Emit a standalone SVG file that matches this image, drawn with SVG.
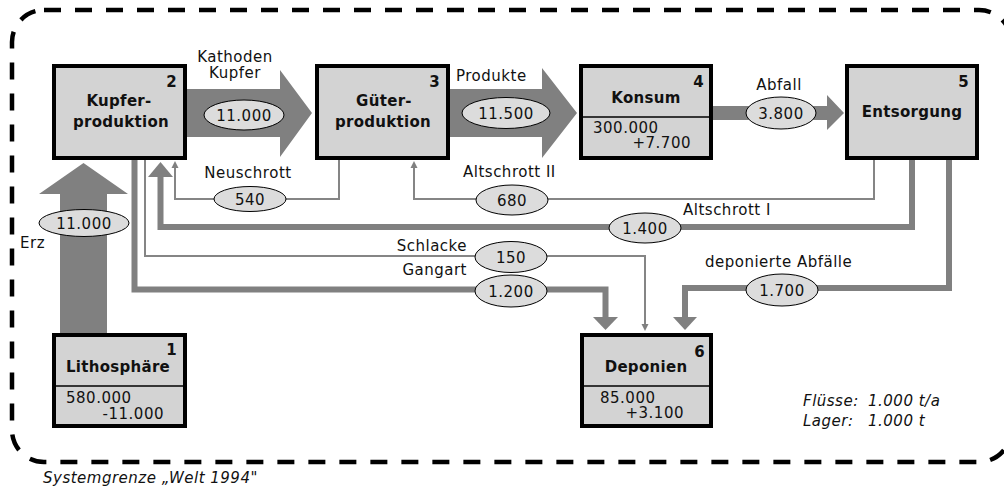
<svg xmlns="http://www.w3.org/2000/svg" width="1004" height="491" viewBox="0 0 1004 491">
<style>
text{font-family:"DejaVu Sans","Verdana",sans-serif;font-size:15px;fill:#111;letter-spacing:0.5px}
.b{font-weight:bold;letter-spacing:0.3px}
.c{text-anchor:middle}
.e{text-anchor:end}
.i{font-style:italic}
.box{fill:#d3d3d3;stroke:#000;stroke-width:4}
.div{stroke:#000;stroke-width:1.5}
.big{fill:#808080}
.thick{fill:none;stroke:#808080;stroke-width:6}
.thin{fill:none;stroke:#858585;stroke-width:2}
.ell{fill:#dcdcdc;stroke:#000;stroke-width:1}
.head{fill:#808080}
</style>
<rect x="12" y="10" width="999" height="452" rx="32" ry="32" fill="none" stroke="#000" stroke-width="4.5" stroke-dasharray="17 14"/>
<text x="43" y="483" class="i">Systemgrenze „Welt 1994"</text>

<g id="connectors">
  <polygon class="big" points="187,89 280,89 280,70 312,113 280,157 280,137 187,137"/>
  <polygon class="big" points="450,89 542,89 542,68 577,113 542,158 542,137 450,137"/>
  <polygon class="big" points="713,106 827,106 827,95 844,113 827,130 827,120 713,120"/>
  <polygon class="big" points="60,333 60,194 39,194 83.5,163 128,194 107,194 107,333"/>
  <polyline class="thin" points="339,160 339,199 175,199 175,167"/>
  <polygon class="head" points="171.5,168 178.5,168 175,161"/>
  <polyline class="thin" points="874,160 874,199 414,199 414,167"/>
  <polygon class="head" points="410.5,168 417.5,168 414,161"/>
  <polyline class="thick" points="912,160 912,227 160.5,227 160.5,176"/>
  <polygon class="head" points="148,177 173,177 160.5,162"/>
  <polyline class="thick" points="949,160 949,288 685,288 685,318"/>
  <polygon class="head" points="673,317 697,317 685,330"/>
  <polyline class="thick" points="134.5,160 134.5,289.5 605.5,289.5 605.5,318"/>
  <polygon class="head" points="593,317 618,317 605.5,330"/>
  <polyline class="thin" points="145,160 145,256 645,256 645,325"/>
  <polygon class="head" points="641.5,324 648.5,324 645,331"/>

  <ellipse class="ell" cx="244" cy="115" rx="40" ry="15"/><text x="244" y="120.5" class="c">11.000</text>
  <ellipse class="ell" cx="506" cy="113" rx="44" ry="15.5"/><text x="506" y="118.5" class="c">11.500</text>
  <ellipse class="ell" cx="781" cy="113" rx="35" ry="16"/><text x="781" y="118.5" class="c">3.800</text>
  <ellipse class="ell" cx="84" cy="223" rx="45" ry="13.5"/><text x="84" y="228.5" class="c">11.000</text>
  <ellipse class="ell" cx="250" cy="199" rx="36" ry="12.5"/><text x="250" y="204.5" class="c">540</text>
  <ellipse class="ell" cx="512" cy="200" rx="36" ry="15"/><text x="512" y="205.5" class="c">680</text>
  <ellipse class="ell" cx="645" cy="228" rx="36" ry="15"/><text x="645" y="233.5" class="c">1.400</text>
  <ellipse class="ell" cx="511" cy="257" rx="36" ry="15.5"/><text x="511" y="262.5" class="c">150</text>
  <ellipse class="ell" cx="511" cy="291" rx="36" ry="16"/><text x="511" y="296.5" class="c">1.200</text>
  <ellipse class="ell" cx="782" cy="290" rx="36" ry="16"/><text x="782" y="295.5" class="c">1.700</text>

  <text x="235" y="62" class="c">Kathoden</text>
  <text x="235" y="78" class="c">Kupfer</text>
  <text x="456" y="81">Produkte</text>
  <text x="779" y="90" class="c">Abfall</text>
  <text x="248" y="178" class="c">Neuschrott</text>
  <text x="463" y="177">Altschrott II</text>
  <text x="683" y="215">Altschrott I</text>
  <text x="467" y="251" class="e">Schlacke</text>
  <text x="467" y="275" class="e">Gangart</text>
  <text x="705" y="267">deponierte Abfälle</text>
  <text x="20" y="248">Erz</text>
</g>

<g id="node1">
  <rect class="box" x="54" y="335" width="131" height="91"/>
  <line class="div" x1="54" y1="386" x2="185" y2="386"/>
  <text x="177" y="355" class="b e">1</text>
  <text x="118" y="372" class="b c">Lithosphäre</text>
  <text x="66" y="403">580.000</text>
  <text x="164" y="419" class="e">-11.000</text>
</g>
<g id="node2">
  <rect class="box" x="54" y="66" width="131" height="92"/>
  <text x="177" y="87" class="b e">2</text>
  <text x="119" y="106" class="b c">Kupfer-</text>
  <text x="121" y="127" class="b c">produktion</text>
</g>
<g id="node3">
  <rect class="box" x="317" y="66" width="131" height="92"/>
  <text x="440" y="87" class="b e">3</text>
  <text x="384" y="106" class="b c">Güter-</text>
  <text x="383" y="127" class="b c">produktion</text>
</g>
<g id="node4">
  <rect class="box" x="581" y="66" width="130" height="92"/>
  <line class="div" x1="581" y1="117" x2="711" y2="117"/>
  <text x="704" y="87" class="b e">4</text>
  <text x="646" y="103" class="b c">Konsum</text>
  <text x="593" y="133">300.000</text>
  <text x="691" y="148" class="e">+7.700</text>
</g>
<g id="node5">
  <rect class="box" x="847" y="66" width="130" height="92"/>
  <text x="969" y="87" class="b e">5</text>
  <text x="912" y="117" class="b c">Entsorgung</text>
</g>
<g id="node6">
  <rect class="box" x="582" y="335" width="129" height="91"/>
  <line class="div" x1="582" y1="386" x2="711" y2="386"/>
  <text x="705" y="357" class="b e">6</text>
  <text x="646" y="372" class="b c">Deponien</text>
  <text x="600" y="403">85.000</text>
  <text x="684" y="418" class="e">+3.100</text>
</g>

<g id="legend">
  <text x="803" y="406" class="i">Flüsse:</text>
  <text x="868" y="406" class="i">1.000 t/a</text>
  <text x="803" y="426" class="i">Lager:</text>
  <text x="868" y="426" class="i">1.000 t</text>
</g>
</svg>
